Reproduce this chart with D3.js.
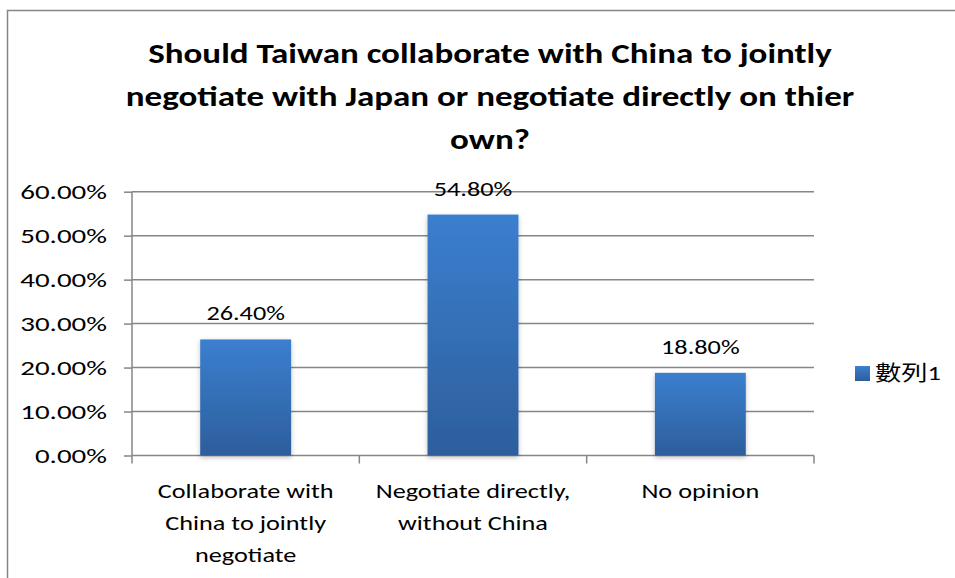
<!DOCTYPE html>
<html>
<head>
<meta charset="utf-8">
<script src="https://cdn.jsdelivr.net/npm/d3@7"></script>
<style>
  html, body { margin: 0; padding: 0; background: #fff; }
  svg { display: block; font-family: Carlito, Lato, "Open Sans", sans-serif; }
</style>
</head>
<body>
<svg id="chart" width="955" height="578"></svg>
<script>
// Survey results
const categories = [
  ["Collaborate with", "China to jointly", "negotiate"],
  ["Negotiate directly,", "without China"],
  ["No opinion"]
];
const values = [26.4, 54.8, 18.8];
const yTicks = [0, 10, 20, 30, 40, 50, 60];
const titleLines = [
  "Should Taiwan collaborate with China to jointly",
  "negotiate with Japan or negotiate directly on thier",
  "own?"
];
const seriesName = "數列1";

const svg = d3.select("#chart");
const W = 955, H = 578;
const SX = 1.25; // horizontal stretch applied to text

// places a text node at (x, y) with horizontal stretch
const place = (x, y, s = SX) => `translate(${x},${y}) scale(${s},1)`;

// chart frame
svg.append("rect")
  .attr("x", 7.5).attr("y", 10.5)
  .attr("width", W + 20).attr("height", H + 20)
  .attr("fill", "#fff").attr("stroke", "#868686").attr("stroke-width", 1.5);

const plot = { left: 132, right: 814, top: 191.7, bottom: 455.5 };

const x = d3.scaleBand()
  .domain(d3.range(values.length))
  .range([plot.left, plot.right])
  .paddingInner(0.6).paddingOuter(0.3);

const y = d3.scaleLinear().domain([0, 60]).range([plot.bottom, plot.top]);

// bar gradient and soft shadow
const defs = svg.append("defs");
const grad = defs.append("linearGradient").attr("id", "barGrad")
  .attr("x1", 0).attr("y1", 0).attr("x2", 0).attr("y2", 1);
grad.append("stop").attr("offset", "0%").attr("stop-color", "#3b7fcf");
grad.append("stop").attr("offset", "100%").attr("stop-color", "#2d5e9c");
const shadow = defs.append("filter").attr("id", "shadow")
  .attr("x", "-20%").attr("y", "-10%").attr("width", "140%").attr("height", "130%");
shadow.append("feDropShadow").attr("dx", 0).attr("dy", 2).attr("stdDeviation", 2.5)
  .attr("flood-color", "#000").attr("flood-opacity", 0.25);

// gridlines
svg.append("g")
  .selectAll("line").data(yTicks.slice(1)).join("line")
  .attr("x1", plot.left).attr("x2", plot.right)
  .attr("y1", d => y(d)).attr("y2", d => y(d))
  .attr("stroke", "#868686").attr("stroke-width", 1.5);

// y axis
const yAxis = d3.axisLeft(y).tickValues(yTicks)
  .tickFormat(d => d.toFixed(2) + "%").tickSize(8).tickPadding(0);
const gy = svg.append("g").attr("transform", `translate(${plot.left},0)`).call(yAxis);
gy.select(".domain").attr("stroke", "#868686").attr("stroke-width", 1.5)
  .attr("d", `M0,${plot.top}V${plot.bottom}`);
gy.selectAll(".tick line").attr("stroke", "#868686").attr("stroke-width", 1.5);
gy.selectAll(".tick text")
  .attr("x", null).attr("dy", null)
  .attr("transform", place(-25, 7, 1.38))
  .attr("font-size", 21).attr("fill", "#000")
  .attr("font-family", "Carlito, Lato, sans-serif");

// x axis with category boundary ticks
const edges = d3.range(values.length + 1).map(i => plot.left + i * (plot.right - plot.left) / values.length);
svg.append("line")
  .attr("x1", plot.left).attr("x2", plot.right)
  .attr("y1", plot.bottom).attr("y2", plot.bottom)
  .attr("stroke", "#868686").attr("stroke-width", 1.5);
svg.append("g").selectAll("line").data(edges).join("line")
  .attr("x1", d => d).attr("x2", d => d)
  .attr("y1", plot.bottom).attr("y2", plot.bottom + 8)
  .attr("stroke", "#868686").attr("stroke-width", 1.5);

// bars
svg.append("g").selectAll("rect").data(values).join("rect")
  .attr("x", (d, i) => x(i)).attr("width", x.bandwidth())
  .attr("y", d => y(d)).attr("height", d => y(0) - y(d))
  .attr("fill", "url(#barGrad)").attr("filter", "url(#shadow)");

// value labels
svg.append("g").selectAll("text").data(values).join("text")
  .attr("transform", (d, i) => place(x(i) + x.bandwidth() / 2, y(d) - 19))
  .attr("text-anchor", "middle").attr("font-size", 21).attr("fill", "#000")
  .text(d => d.toFixed(2) + "%");

// category labels
const catG = svg.append("g").selectAll("text").data(categories).join("text")
  .attr("transform", (d, i) => place(x(i) + x.bandwidth() / 2, 498))
  .attr("text-anchor", "middle").attr("font-size", 21).attr("fill", "#000");
catG.selectAll("tspan").data(d => d).join("tspan")
  .attr("x", 0)
  .attr("y", (d, j) => j * 32)
  .text(d => d);

// title
svg.append("g").selectAll("text").data(titleLines).join("text")
  .attr("transform", (d, i) => place(490, 63 + i * 43))
  .attr("text-anchor", "middle").attr("font-size", 28).attr("font-weight", "bold")
  .attr("fill", "#000").text(d => d);

// legend
const lg = svg.append("g").attr("transform", "translate(855,366)");
lg.append("rect").attr("width", 15).attr("height", 15).attr("fill", "url(#barGrad)");
lg.append("text").attr("transform", place(20, 14)).attr("font-size", 21)
  .attr("font-family", "Carlito, Lato, 'Noto Sans CJK TC', sans-serif")
  .attr("fill", "#000").text(seriesName);
</script>
</body>
</html>
